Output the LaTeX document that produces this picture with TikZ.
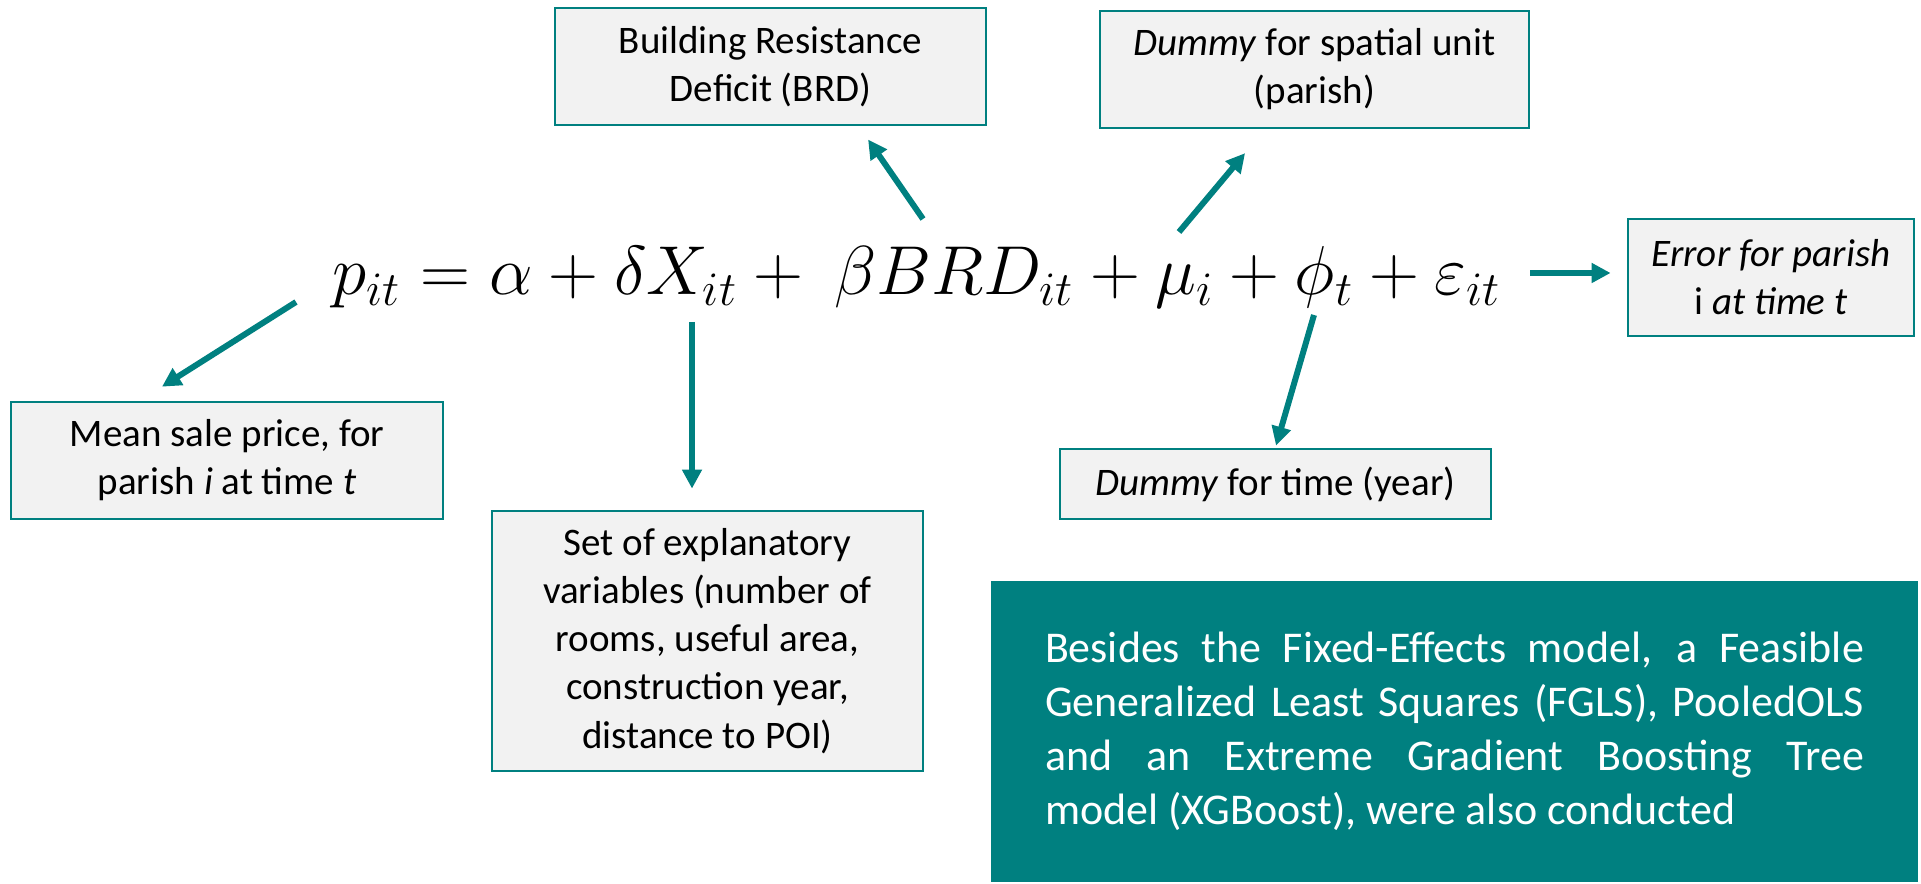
\documentclass[tikz,border=0pt]{standalone}
\usepackage{amsmath}
\usepackage{graphicx}
\usepackage{fontspec}
\setmainfont{Carlito}
\usepackage{tikz}
\usetikzlibrary{arrows.meta,positioning,calc}
\definecolor{tealc}{HTML}{008080}
\definecolor{boxgrey}{HTML}{F2F2F2}
\tikzset{
  lbl_box/.style = {draw=tealc, line width=0.8pt, fill=boxgrey, align=center,
    inner sep=0pt, font=\fontsize{11.1}{13.7}\selectfont},% boite grise
  note_box/.style = {fill=tealc, text=white, inner ysep=0pt, inner xsep=0.54cm,
    text width=8.19cm, align=justify, minimum height=3.01cm,
    font=\fontsize{12.5}{15.4}\selectfont},% boite pleine
  arr/.style = {draw=tealc, line width=1.7pt,
    -{Triangle[length=0.19cm,width=0.19cm]}}% fleche
}

\begin{document}
\begin{tikzpicture}
\useasboundingbox (0,0) rectangle (19.21,-8.84);

\node[anchor=base, font=\fontsize{17.28}{20}\selectfont] (eq) at (9.17,-2.95)
  {\scalebox{1.14}{$p_{it} = \alpha + \delta X_{it} +\ \beta BRD_{it} + \mu_i + \phi_t + \varepsilon_{it}$}};

\node[lbl_box, minimum width=4.31cm, minimum height=1.17cm] (brd) at (7.705,-0.665)
  {Building Resistance\\ Deficit (BRD)};
\node[lbl_box, minimum width=4.29cm, minimum height=1.17cm] (spat) at (13.145,-0.695)
  {\textit{Dummy} for spatial unit\\ (parish)};
\node[lbl_box, minimum width=2.86cm, minimum height=1.17cm] (err) at (17.71,-2.775)
  {\textit{Error for parish}\\ i \textit{at time t}};
\node[lbl_box, minimum width=4.32cm, minimum height=1.17cm] (mean) at (2.27,-4.605)
  {Mean sale price, for\\ parish \textit{i} at time \textit{t}};
\node[lbl_box, minimum width=4.31cm, minimum height=0.70cm] (time) at (12.755,-4.84)
  {\textit{Dummy} for time (year)};
\node[lbl_box, minimum width=4.31cm, minimum height=2.60cm] (expl) at (7.075,-6.41)
  {Set of explanatory\\ variables (number of\\ rooms, useful area,\\ construction year,\\ distance to POI)};
\node[note_box] (note) at (14.545,-7.315)
  {Besides the Fixed-Effects model, a Feasible Generalized Least Squares (FGLS), PooledOLS and an Extreme Gradient Boosting Tree\linebreak model (XGBoost), were also conducted};

% departs des fleches
\coordinate (c_p) at (2.96,-3.02);
\coordinate (c_x) at (6.92,-3.22);
\coordinate (c_b) at (9.23,-2.19);
\coordinate (c_mu) at (11.79,-2.32);
\coordinate (c_phi) at (13.14,-3.15);
\coordinate (c_eps) at (15.30,-2.73);

\draw[arr, shorten >=0.26cm] (c_p) -- ([xshift=-0.87cm]mean.north);
\draw[arr, shorten >=0.21cm] (c_x) -- ([xshift=-0.155cm]expl.north);
\draw[arr, shorten >=0.16cm] (c_b) -- ([xshift=0.885cm]brd.south);
\draw[arr, shorten >=0.31cm] (c_mu) -- ([xshift=-0.495cm]spat.south);
\draw[arr, shorten >=0.02cm] (c_phi) -- (time.north);
\draw[arr, shorten >=0.16cm] (c_eps) -- ([yshift=0.045cm]err.west);
\end{tikzpicture}
\end{document}
